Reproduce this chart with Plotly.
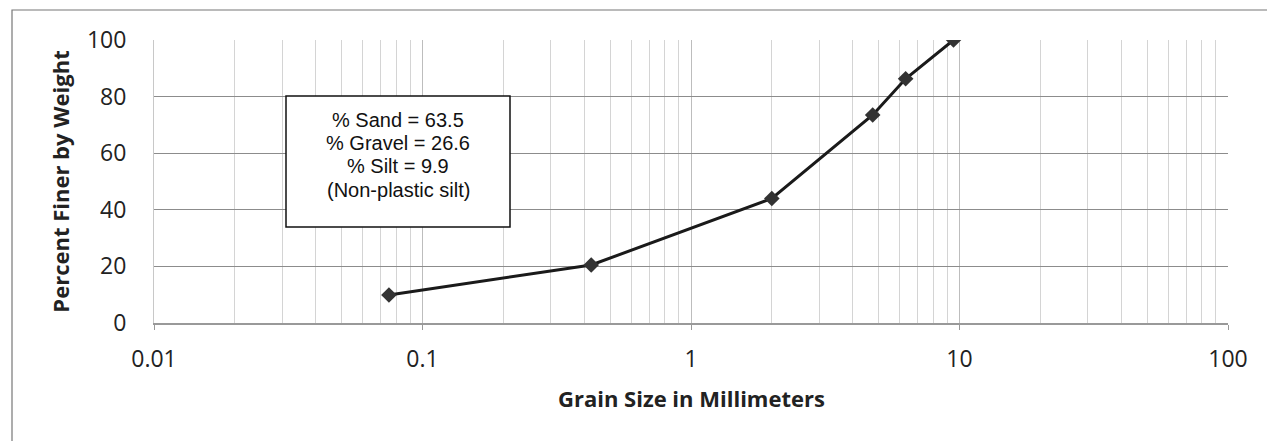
import plotly.graph_objects as go

grain_size_mm = [0.075, 0.425, 2.0, 4.75, 6.3, 9.5]
percent_finer = [9.9, 20.5, 44.0, 73.5, 86.3, 100.0]
x_tick_vals = [0.01, 0.1, 1, 10, 100]
x_tick_text = ["0.01", "0.1", "1", "10", "100"]
y_tick_vals = [0, 20, 40, 60, 80, 100]
box_lines = ["% Sand = 63.5", "% Gravel = 26.6", "% Silt = 9.9", "(Non-plastic silt)"]
x_title = "Grain Size in Millimeters"
y_title = "Percent Finer by Weight"

# page body has an 8px margin; figure occupies 8..1275, 8..441
W, H = 1267, 433
L, R, T, B = 146, 47, 32, 118
pw = W - L - R
ph = H - T - B

def px(xp):  # screen x -> paper x
    return (xp - 8 - L) / pw

def py(yp):  # screen y -> paper y
    return (H - B + 8 - yp) / ph

fig = go.Figure()
fig.add_trace(go.Scatter(
    x=grain_size_mm, y=percent_finer, mode="lines+markers",
    line=dict(color="#1a1a1a", width=3),
    marker=dict(symbol="diamond", size=12, color="#333333"),
    showlegend=False,
))

fig.update_layout(
    width=W, height=H,
    margin=dict(l=L, r=R, t=T, b=B),
    paper_bgcolor="white", plot_bgcolor="white",
    font=dict(family="Open Sans, Arial", color="#222"),
    xaxis=dict(
        type="log", range=[-2, 2],
        tickvals=x_tick_vals, ticktext=x_tick_text,
        tickfont=dict(size=23, family="Open Sans", color="#222"),
        showgrid=True, gridcolor="#bdbdbd", gridwidth=1,
        minor=dict(dtick="D1", showgrid=True, gridcolor="#d4d4d4", gridwidth=1),
        showline=True, linecolor="#999", linewidth=1.5,
        ticks="outside", ticklen=5, tickcolor="#999",
        ticklabelstandoff=10,
        zeroline=False,
    ),
    yaxis=dict(
        range=[0, 100], tickvals=y_tick_vals,
        tickfont=dict(size=23, family="Open Sans", color="#222"),
        showgrid=True, gridcolor="#8c8c8c", gridwidth=1.3,
        showline=True, linecolor="#c8c8c8", linewidth=1,
        ticks="", ticklabelstandoff=22,
        title=dict(text="<b>" + y_title + "</b>", font=dict(size=22, family="Open Sans", color="#222"), standoff=11),
        zeroline=False,
    ),
)

fig.add_annotation(
    x=px(691), y=py(398), xref="paper", yref="paper",
    xanchor="center", yanchor="middle",
    text="<b>" + x_title + "</b>", showarrow=False,
    font=dict(size=22, family="Open Sans", color="#222"),
)

# legend-like text box
fig.add_shape(type="rect", xref="paper", yref="paper",
              x0=px(286), x1=px(510), y0=py(227), y1=py(96),
              line=dict(color="#111", width=1.5), fillcolor="white", layer="above")
line_y = [120, 143, 166, 190]
for txt, yy in zip(box_lines, line_y):
    fig.add_annotation(
        x=px(398), y=py(yy), xref="paper", yref="paper",
        xanchor="center", yanchor="middle",
        text=txt, showarrow=False,
        font=dict(family="Liberation Sans, Arial", size=20, color="#111"),
    )

# outer frame
fig.add_shape(type="rect", xref="paper", yref="paper",
              x0=px(12), x1=px(1273), y0=py(450), y1=py(10),
              line=dict(color="#777", width=1.2))

fig.write_html("out.html")
